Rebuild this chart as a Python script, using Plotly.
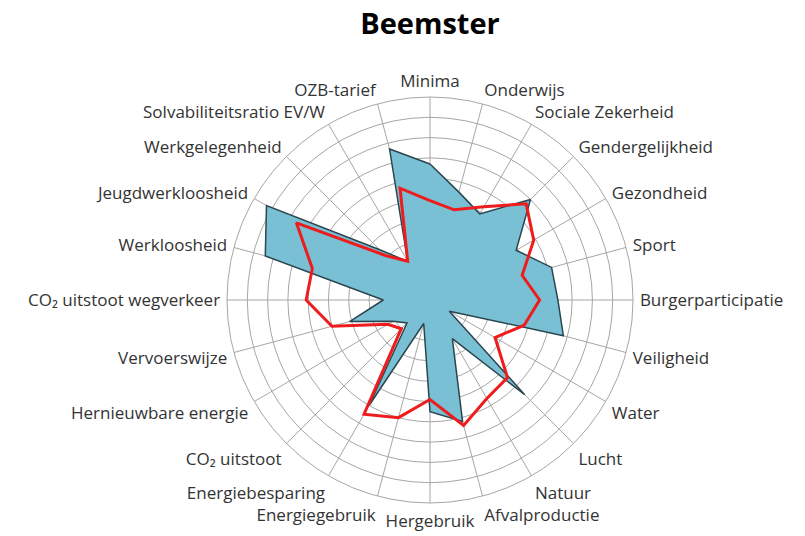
import plotly.graph_objects as go

categories = ["Minima", "Onderwijs", "Sociale Zekerheid", "Gendergelijkheid", "Gezondheid",
              "Sport", "Burgerparticipatie", "Veiligheid", "Water", "Lucht", "Natuur",
              "Afvalproductie", "Hergebruik", "Energiegebruik", "Energiebesparing",
              "CO₂ uitstoot", "Hernieuwbare energie", "Vervoerswijze",
              "CO₂ uitstoot wegverkeer", "Werkloosheid", "Jeugdwerkloosheid",
              "Werkgelegenheid", "Solvabiliteitsratio EV/W", "OZB-tarief"]

beemster = [6.7, 5.5, 4.9, 7.0, 4.9, 6.2, 6.3, 6.8, 1.1, 6.6, 2.2, 6.2,
            5.5, 1.2, 6.0, 1.6, 2.1, 4.1, 2.3, 8.4, 9.3, 3.5, 2.2, 7.7]

referentie = [4.9, 4.6, 5.3, 6.7, 5.9, 4.7, 5.4, 4.8, 3.7, 5.4, 5.6, 6.4,
              4.9, 6.0, 6.5, 2.0, 2.4, 5.0, 6.1, 6.0, 7.6, 3.1, 2.2, 5.7]

title_text = "Beemster"

theta = categories + [categories[0]]

W, H = 805, 536

fig = go.Figure()
fig.add_trace(go.Scatterpolar(
    r=beemster + [beemster[0]], theta=theta, mode="lines", fill="toself",
    fillcolor="#79c0d4", line=dict(color="#2b4650", width=1.5), name="Beemster",
))
fig.add_trace(go.Scatterpolar(
    r=referentie + [referentie[0]], theta=theta, mode="lines",
    line=dict(color="#ee1c1c", width=3), name="Referentie",
))

grid = "#a6a6a6"
fig.update_layout(
    width=W, height=H,
    margin=dict(l=0, r=0, t=0, b=0),
    paper_bgcolor="white",
    showlegend=False,
    title=dict(text="<b>" + title_text + "</b>", x=430 / W, xanchor="center",
               y=1 - 24 / H, yanchor="middle", yref="container",
               font=dict(family="Open Sans", size=29, color="#000000")),
    font=dict(family="Open Sans", size=17, color="#333333"),
    polar=dict(
        domain=dict(x=[227 / W, 633 / W], y=[1 - 503 / H, 1 - 97 / H]),
        bgcolor="white",
        radialaxis=dict(range=[0, 10], dtick=1, tick0=0, showticklabels=False,
                        ticks="", showline=False, gridcolor=grid, gridwidth=1),
        angularaxis=dict(rotation=90, direction="clockwise", categoryorder="array",
                         categoryarray=categories, gridcolor=grid, gridwidth=1,
                         linecolor=grid, linewidth=1,
                         ticks="outside", ticklen=3, tickcolor="rgba(0,0,0,0)",
                         tickfont=dict(family="Open Sans", size=17, color="#333333")),
    ),
)

fig.write_html("out.html", config={"displayModeBar": False},
               post_script="document.body.style.margin='0';document.body.style.overflow='hidden';")
